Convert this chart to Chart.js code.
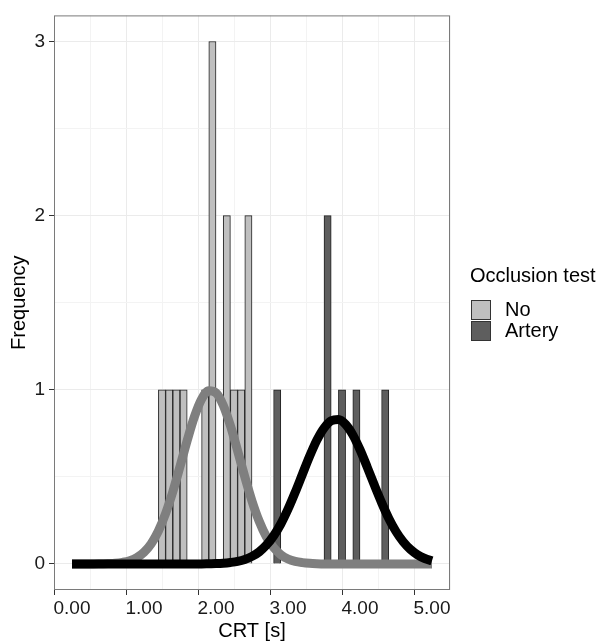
<!DOCTYPE html>
<html>
<head>
<meta charset="utf-8">
<script src="https://cdn.jsdelivr.net/npm/chart.js@4/dist/chart.umd.min.js"></script>
<style>
  body { margin: 0; background: #fff; }
  #wrap { position: relative; width: 603px; height: 643px; }
  #legend { position: absolute; left: 470px; top: 262px; font-family: "Liberation Sans", Arial, sans-serif; color: #000; }
  #legend .title { font-size: 20px; line-height: 26px; margin-bottom: 11px; }
  #legend .row { display: flex; align-items: center; height: 21px; font-size: 20px; }
  #legend .key { width: 20px; height: 20px; border: 1px solid #333; margin-left: 1px; margin-right: 14px; box-sizing: border-box; }
</style>
</head>
<body>
<div id="wrap">
  <canvas id="myChart" width="603" height="643"></canvas>
  <div id="legend"></div>
</div>
<script>
const ctx = document.getElementById("myChart");

// histogram bins (binwidth 0.1), bin centres and counts
const noBins = [1.25, 1.35, 1.45, 1.55, 1.85, 1.95, 2.15, 2.25, 2.35, 2.45];
const noCounts = [1, 1, 1, 1, 1, 3, 2, 1, 1, 2];
const arteryBins = [2.85, 3.55, 3.75, 3.95, 4.35];
const arteryCounts = [1, 2, 1, 1, 1];

// density curves
const curveX = [0.0, 0.1, 0.2, 0.3, 0.4, 0.5, 0.6, 0.7, 0.8, 0.9,
  1.0, 1.1, 1.2, 1.3, 1.4, 1.5, 1.6, 1.7, 1.8, 1.9,
  2.0, 2.1, 2.2, 2.3, 2.4, 2.5, 2.6, 2.7, 2.8, 2.9,
  3.0, 3.1, 3.2, 3.3, 3.4, 3.5, 3.6, 3.7, 3.8, 3.9,
  4.0, 4.1, 4.2, 4.3, 4.4, 4.5, 4.6, 4.7, 4.8, 4.9, 5.0];
const noCurve = [0, 0, 0, 0, 0.001, 0.002, 0.004, 0.009, 0.018, 0.036,
  0.067, 0.116, 0.189, 0.289, 0.414, 0.559, 0.709, 0.845, 0.946, 0.994,
  0.982, 0.911, 0.794, 0.65, 0.5, 0.361, 0.245, 0.156, 0.094, 0.053,
  0.028, 0.014, 0.007, 0.003, 0.001, 0, 0, 0, 0, 0,
  0, 0, 0, 0, 0, 0, 0, 0, 0, 0, 0];
const arteryCurve = [0, 0, 0, 0, 0, 0, 0, 0, 0, 0,
  0, 0, 0, 0, 0, 0, 0, 0, 0, 0.001,
  0.002, 0.004, 0.008, 0.014, 0.025, 0.043, 0.069, 0.108, 0.161, 0.229,
  0.314, 0.411, 0.515, 0.618, 0.71, 0.78, 0.822, 0.829, 0.801, 0.741,
  0.656, 0.556, 0.452, 0.352, 0.261, 0.186, 0.127, 0.083, 0.052, 0.031, 0.018];

const xTicks = [0, 0.5, 1, 1.5, 2, 2.5, 3, 3.5, 4, 4.5, 5];
const yTicks = [0, 0.5, 1, 1.5, 2, 2.5, 3];

const groups = ["No", "Artery"];
const fills = ["#bfbfbf", "#5e5e5e"];

const font = "'Liberation Sans', Arial, sans-serif";
const isMajor = (v) => Math.abs(v - Math.round(v)) < 1e-9;
const tickMajor = (c) => c.tick !== undefined && isMajor(c.tick.value);

const toPoints = (xs, ys) => xs.map((x, i) => ({ x: x, y: ys[i] }));

const panelBorder = {
  id: "panelBorder",
  afterDraw(chart) {
    const a = chart.chartArea;
    const c = chart.ctx;
    c.save();
    c.strokeStyle = "#7a7a7a";
    c.lineWidth = 1;
    c.strokeRect(a.left + 0.5, a.top + 0.5, a.right - a.left - 1, a.bottom - a.top - 1);
    c.restore();
  },
};

new Chart(ctx, {
  type: "bar",
  data: {
    datasets: [
      {
        type: "line",
        data: toPoints(curveX, arteryCurve),
        borderColor: "#000000",
        borderWidth: 9,
        borderCapStyle: "butt",
        pointRadius: 0,
        cubicInterpolationMode: "monotone",
        order: 0,
      },
      {
        type: "line",
        data: toPoints(curveX, noCurve),
        borderColor: "#7f7f7f",
        borderWidth: 9,
        borderCapStyle: "butt",
        pointRadius: 0,
        cubicInterpolationMode: "monotone",
        order: 1,
      },
      {
        label: groups[0],
        data: toPoints(noBins, noCounts),
        backgroundColor: fills[0],
        borderColor: "#222222",
        borderWidth: 1,
        grouped: false,
        barPercentage: 1,
        categoryPercentage: 1,
        order: 2,
      },
      {
        label: groups[1],
        data: toPoints(arteryBins, arteryCounts),
        backgroundColor: fills[1],
        borderColor: "#222222",
        borderWidth: 1,
        grouped: false,
        barPercentage: 1,
        categoryPercentage: 1,
        order: 3,
      },
    ],
  },
  options: {
    responsive: false,
    animation: false,
    events: [],
    layout: { padding: { top: 14, right: 153, left: 0, bottom: 0 } },
    plugins: {
      legend: { display: false },
      tooltip: { enabled: false },
    },
    scales: {
      x: {
        type: "linear",
        min: -0.25,
        max: 5.25,
        offset: false,
        afterBuildTicks: (scale) => {
          scale.ticks = xTicks.map((v) => ({ value: v }));
        },
        afterFit: (scale) => {
          scale.height = 53;
        },
        ticks: {
          autoSkip: false,
          maxRotation: 0,
          padding: 2,
          color: "#1a1a1a",
          font: { size: 19, family: font },
          callback: (v) => (isMajor(v) ? v.toFixed(2) : ""),
        },
        grid: {
          color: (c) => (tickMajor(c) ? "#ebebeb" : "#f3f3f3"),
          lineWidth: 1,
          tickLength: 5,
          tickColor: (c) => (tickMajor(c) ? "#333333" : "rgba(0,0,0,0)"),
        },
        border: { display: false },
        title: {
          display: true,
          text: "CRT [s]",
          color: "#000",
          font: { size: 20, family: font },
          padding: { top: 0, bottom: 0 },
        },
      },
      y: {
        type: "linear",
        min: -0.15,
        max: 3.15,
        afterBuildTicks: (scale) => {
          scale.ticks = yTicks.map((v) => ({ value: v }));
        },
        afterFit: (scale) => {
          scale.width = 54;
        },
        ticks: {
          autoSkip: false,
          padding: 4,
          color: "#1a1a1a",
          font: { size: 19, family: font },
          callback: (v) => (isMajor(v) ? String(v) : ""),
        },
        grid: {
          color: (c) => (tickMajor(c) ? "#ebebeb" : "#f3f3f3"),
          lineWidth: 1,
          tickLength: 5,
          tickColor: (c) => (tickMajor(c) ? "#333333" : "rgba(0,0,0,0)"),
        },
        border: { display: false },
        title: {
          display: true,
          text: "Frequency",
          color: "#000",
          font: { size: 20, family: font },
          padding: { top: 7, bottom: 0 },
        },
      },
    },
  },
  plugins: [panelBorder],
});

// legend
const legend = document.getElementById("legend");
let html = '<div class="title">Occlusion test</div>';
groups.forEach((g, i) => {
  html += '<div class="row"><span class="key" style="background:' + fills[i] + '"></span>' + g + "</div>";
});
legend.innerHTML = html;
</script>
</body>
</html>
